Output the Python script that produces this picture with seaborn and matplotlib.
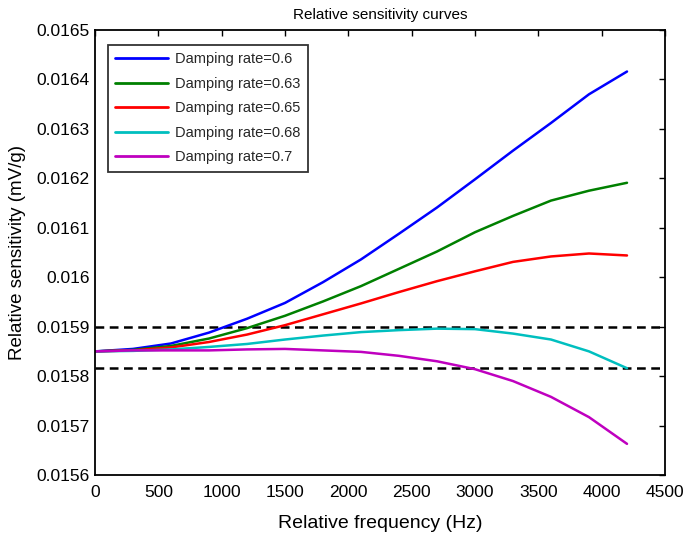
import matplotlib
matplotlib.use("Agg")
import matplotlib.pyplot as plt
import seaborn as sns
import pandas as pd

freq = [0, 300, 600, 900, 1200, 1500, 1800, 2100, 2400, 2700, 3000, 3300, 3600, 3900, 4200]
damp_060 = [0.01585, 0.015855, 0.015866, 0.015888, 0.015916, 0.015948, 0.015990, 0.016036,
            0.016088, 0.016141, 0.016198, 0.016256, 0.016312, 0.016370, 0.016416]
damp_063 = [0.01585, 0.015853, 0.015861, 0.015876, 0.015897, 0.015922, 0.015951, 0.015982,
            0.016017, 0.016052, 0.016091, 0.016124, 0.016155, 0.016175, 0.016191]
damp_065 = [0.01585, 0.015852, 0.015858, 0.015869, 0.015884, 0.015903, 0.015925, 0.015947,
            0.015970, 0.015992, 0.016012, 0.016031, 0.016042, 0.016048, 0.016044]
damp_068 = [0.01585, 0.015851, 0.015854, 0.015859, 0.015865, 0.015874, 0.015882, 0.015889,
            0.015893, 0.015896, 0.015895, 0.015886, 0.015874, 0.015850, 0.015816]
damp_070 = [0.01585, 0.015852, 0.015852, 0.015852, 0.015854, 0.015855, 0.015852, 0.015849,
            0.015841, 0.015830, 0.015814, 0.015790, 0.015758, 0.015717, 0.015663]
labels = ["Damping rate=0.6", "Damping rate=0.63", "Damping rate=0.65",
          "Damping rate=0.68", "Damping rate=0.7"]
colors = ["#0000FF", "#008000", "#FF0000", "#00BFBF", "#BF00BF"]
limits = [0.0159, 0.015816]
xticks = [0, 500, 1000, 1500, 2000, 2500, 3000, 3500, 4000, 4500]
yticks = [0.0156, 0.0157, 0.0158, 0.0159, 0.016, 0.0161, 0.0162, 0.0163, 0.0164, 0.0165]
ytick_labels = ["0.0156", "0.0157", "0.0158", "0.0159", "0.016", "0.0161", "0.0162",
                "0.0163", "0.0164", "0.0165"]

series = [damp_060, damp_063, damp_065, damp_068, damp_070]
df = pd.concat([pd.DataFrame({"f": freq, "s": s, "label": lab}) for s, lab in zip(series, labels)],
               ignore_index=True)

sns.set_theme(style="white")
plt.rcParams["font.family"] = ["Liberation Sans", "DejaVu Sans"]
plt.rcParams["xtick.direction"] = "in"
plt.rcParams["ytick.direction"] = "in"

fig = plt.figure(figsize=(6.85, 5.34), dpi=100)
ax = fig.add_axes([95 / 685, 1 - 475 / 534, 570 / 685, 445 / 534])

sns.lineplot(data=df, x="f", y="s", hue="label", palette=dict(zip(labels, colors)),
             hue_order=labels, linewidth=1.8, ax=ax, legend=True)
for v in limits:
    ax.axhline(v, color="black", linestyle=(0, (3.5, 2.2)), linewidth=1.8, zorder=1)

ax.set_xlim(0, 4500)
ax.set_ylim(0.0156, 0.0165)
ax.set_xticks(xticks)
ax.set_xticklabels([str(t) for t in xticks])
ax.set_yticks(yticks)
ax.set_yticklabels(ytick_labels)
ax.tick_params(axis="both", which="both", direction="in", length=4, width=1,
               top=True, right=True, labelsize=12.5, colors="black")
ax.tick_params(axis="x", pad=7)
ax.tick_params(axis="y", pad=4)
for sp in ax.spines.values():
    sp.set_visible(True)
    sp.set_color("black")
    sp.set_linewidth(1.3)

ax.set_xlabel("Relative frequency (Hz)", fontsize=14, color="black", labelpad=11)
ax.set_ylabel("Relative sensitivity (mV/g)", fontsize=13.5, color="black", labelpad=7)
ax.set_title("Relative sensitivity curves", fontsize=11, color="black", pad=8)

leg = ax.legend(loc="upper left", bbox_to_anchor=(0.0228, 0.966), borderaxespad=0,
                fontsize=10.5, frameon=True,
                fancybox=False, edgecolor="black", handlelength=3.6, labelspacing=0.72,
                borderpad=0.5, handletextpad=0.5, title=None)
leg.get_frame().set_linewidth(1.3)
for line in leg.get_lines():
    line.set_linewidth(2)

fig.savefig("out.png", dpi=100)
